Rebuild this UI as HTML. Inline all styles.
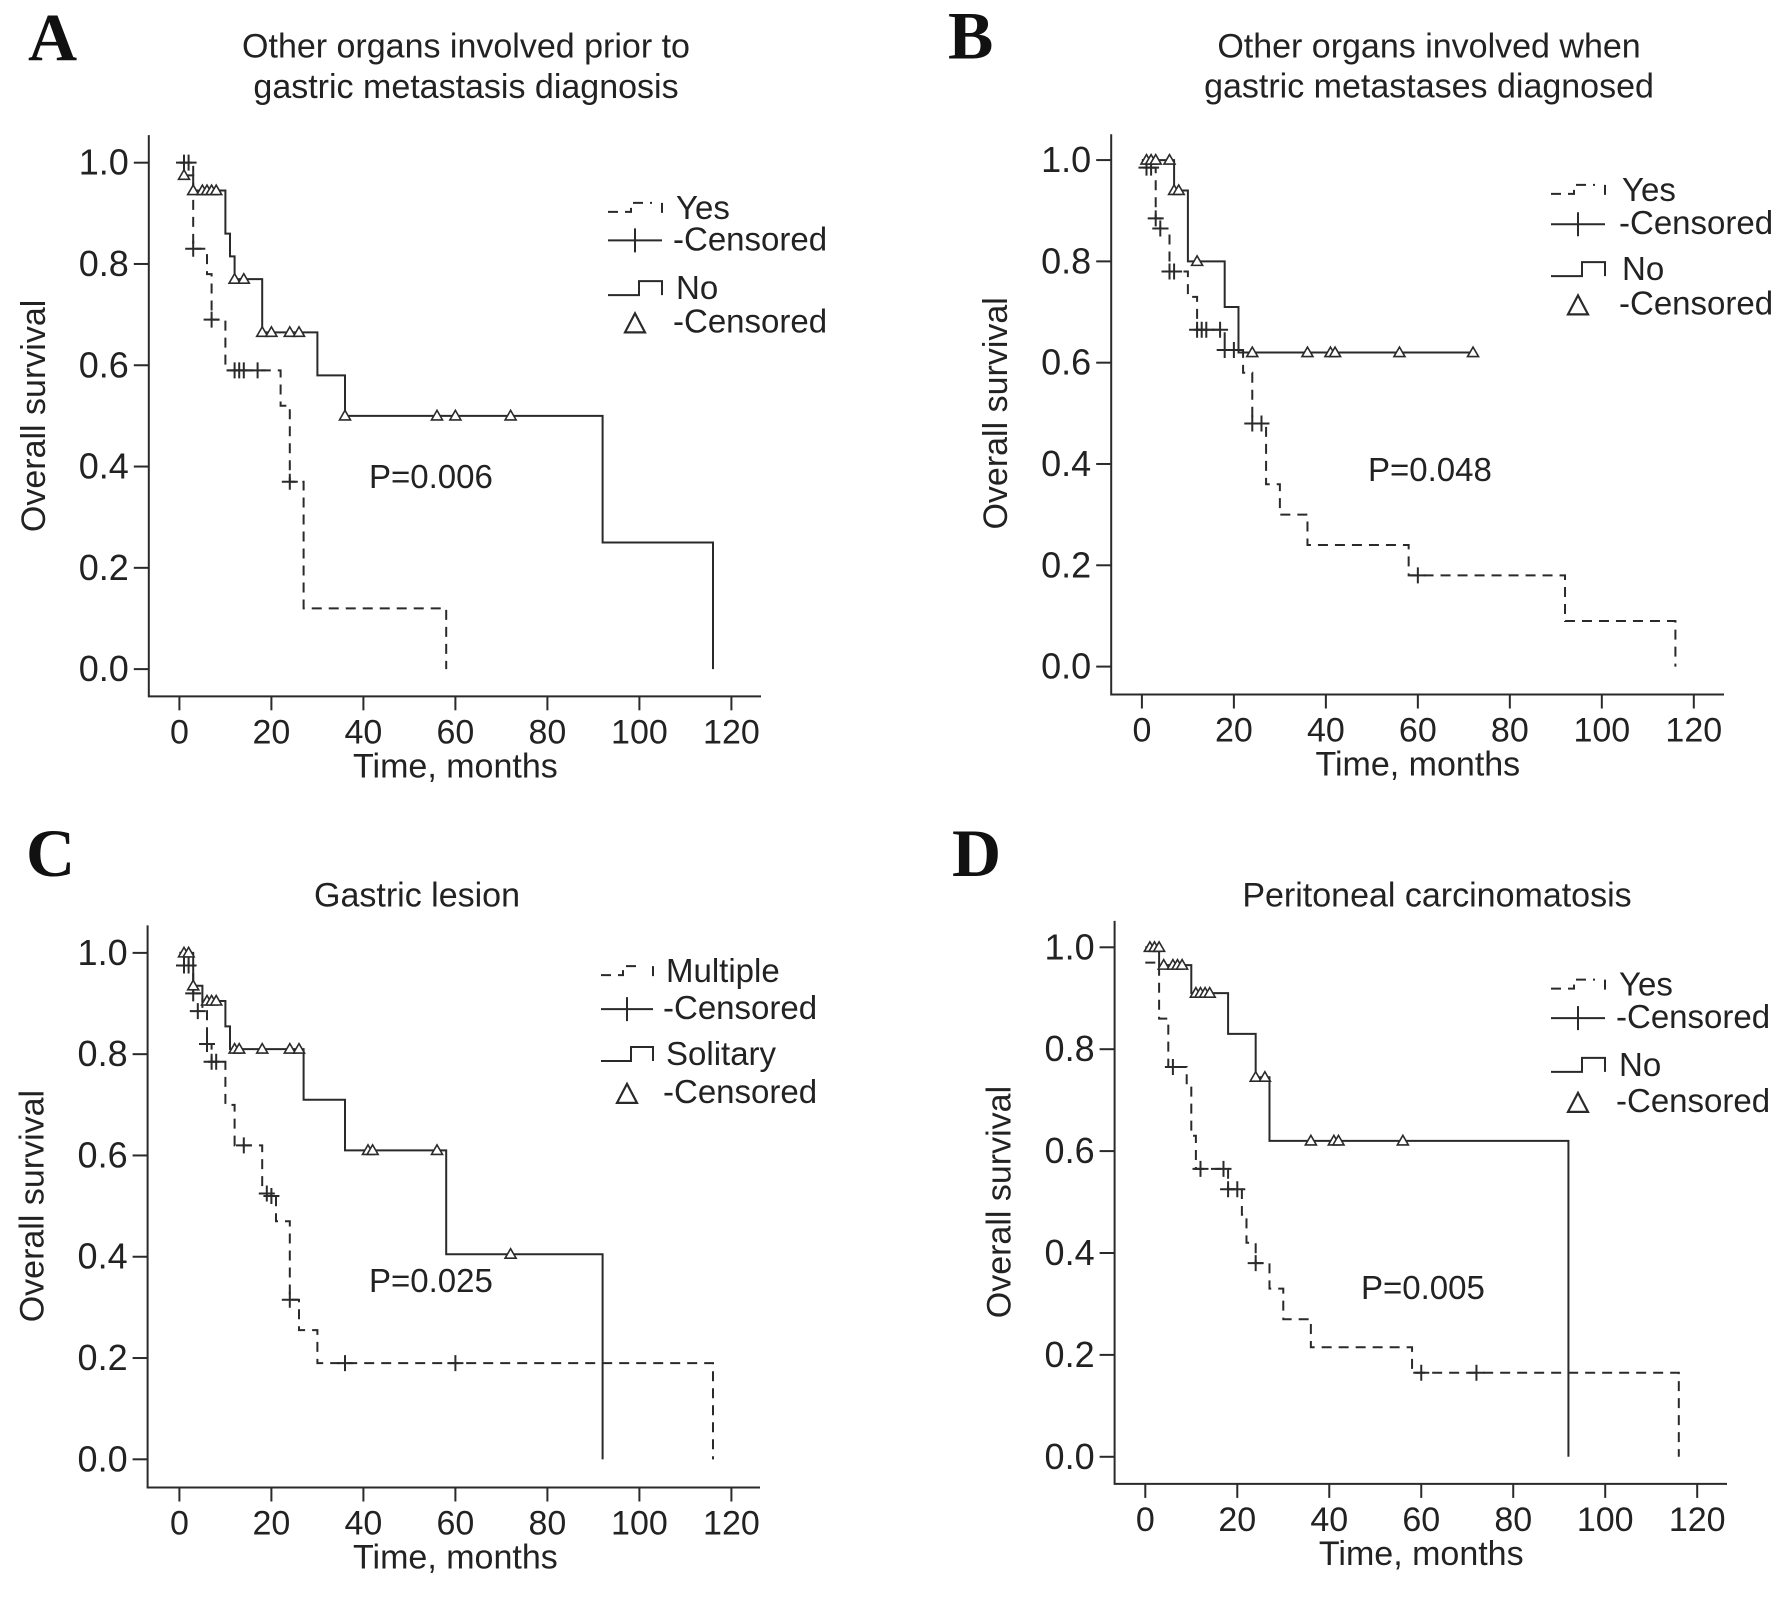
<!DOCTYPE html>
<html><head><meta charset="utf-8"><style>
html,body{margin:0;padding:0;background:#fff}
svg{display:block}
text{font-family:"Liberation Sans",Arial,sans-serif;fill:#222}
.lt{font-family:"Liberation Serif","Times New Roman",serif;font-weight:bold;font-size:68px;fill:#111}
</style></head><body>
<svg id="fig" width="1785" height="1605" viewBox="0 0 1785 1605" xmlns="http://www.w3.org/2000/svg"></svg>
<script>
// Panel A
const aYesT=[0,3,6,7,10,22,24,27,58];
const aYesS=[1,0.83,0.78,0.69,0.59,0.52,0.37,0.12,0];
const aYesCT=[1,2,3,7,12,13,14,17,24];
const aYesCS=[1,1,0.83,0.69,0.59,0.59,0.59,0.59,0.37];
const aNoT=[0,1,3,10,11,12,18,30,36,92,116];
const aNoS=[1,0.975,0.945,0.86,0.815,0.77,0.665,0.58,0.5,0.25,0];
const aNoCT=[1,3,5,6,7,8,12,14,18,20,24,26,36,56,60,72];
const aNoCS=[0.975,0.945,0.945,0.945,0.945,0.945,0.77,0.77,0.665,0.665,0.665,0.665,0.5,0.5,0.5,0.5];
// Panel B
const bYesT=[0,1,3,4,6,10,12,18,22,24,27,30,36,58,92,116];
const bYesS=[1,0.985,0.885,0.865,0.78,0.73,0.665,0.625,0.58,0.48,0.36,0.30,0.24,0.18,0.09,0];
const bYesCT=[1,2,3,4,6,7,12,13,14,17,18,20,24,26,60];
const bYesCS=[0.985,0.985,0.885,0.865,0.78,0.78,0.665,0.665,0.665,0.665,0.625,0.625,0.48,0.48,0.18];
const bNoT=[0,7,10,18,21];
const bNoS=[1,0.94,0.80,0.71,0.62];
const bNoCT=[1,2,3,6,7,8,12,24,36,41,42,56,72];
const bNoCS=[1,1,1,1,0.94,0.94,0.80,0.62,0.62,0.62,0.62,0.62,0.62];
// Panel C
const cYesT=[0,2,3,5,6,7,10,12,18,21,24,26,30,116];
const cYesS=[1,0.975,0.92,0.885,0.82,0.785,0.70,0.62,0.525,0.47,0.315,0.255,0.19,0];
const cYesCT=[1,2,3,4,6,7,8,14,19,20,24,36,60];
const cYesCS=[0.975,0.975,0.92,0.885,0.82,0.785,0.785,0.62,0.525,0.52,0.315,0.19,0.19];
const cNoT=[0,3,5,10,11,27,36,58,92];
const cNoS=[1,0.935,0.905,0.855,0.81,0.71,0.61,0.405,0];
const cNoCT=[1,2,3,6,7,8,12,13,18,24,26,41,42,56,72];
const cNoCS=[1,1,0.935,0.905,0.905,0.905,0.81,0.81,0.81,0.81,0.81,0.61,0.61,0.61,0.405];
// Panel D
const dYesT=[0,3,5,9,10,11,18,21,22,24,27,30,36,58,116];
const dYesS=[0.97,0.86,0.765,0.73,0.63,0.565,0.525,0.475,0.42,0.38,0.33,0.27,0.215,0.165,0];
const dYesCT=[6,12,17,18,20,24,60,72];
const dYesCS=[0.765,0.565,0.565,0.525,0.525,0.38,0.165,0.165];
const dNoT=[0,3,10,18,24,27,92];
const dNoS=[1,0.965,0.91,0.83,0.745,0.62,0];
const dNoCT=[1,2,3,4,6,7,8,11,12,13,14,24,26,36,41,42,56];
const dNoCS=[1,1,1,0.965,0.965,0.965,0.965,0.91,0.91,0.91,0.91,0.745,0.745,0.62,0.62,0.62,0.62];
const xTicks=[0,20,40,60,80,100,120];
const yTicks=[0,0.2,0.4,0.6,0.8,1.0];

const NS="http://www.w3.org/2000/svg";
const svg=document.getElementById('fig');
function mk(tag,attrs,parent){const e=document.createElementNS(NS,tag);for(const k in attrs)e.setAttribute(k,attrs[k]);(parent||svg).appendChild(e);return e;}
function txt(s,x,y,size,anchor,parent,name){const t=mk('text',{x:x,y:y,'font-size':size,'text-anchor':anchor||'start'},parent);t.textContent=s;


return t;}
const K=0.9008;
function fy(y){return y<802? y*K : 802+(y-802)*K;}

const panels=[
 {id:'a',letter:'A',lx:28,ly:67,title:['Other organs involved prior to','gastric metastasis diagnosis'],tx:466,ty:[64,109],
  ax:148.8,at:150,ab:773,ar:761,x0:179.4,x1:731.4,y1:180.6,y0:742.8,
  leg:{sx:608,ex:662,tx:676,ys:[243,278,332,369]},labels:['Yes','No'],px:369,py:542,
  yesT:aYesT,yesS:aYesS,yesCT:aYesCT,yesCS:aYesCS,noT:aNoT,noS:aNoS,noCT:aNoCT,noCS:aNoCS},
 {id:'b',letter:'B',lx:948,ly:65,title:['Other organs involved when','gastric metastases diagnosed'],tx:1429,ty:[64,108],
  ax:1111.2,at:149,ab:771,ar:1724,x0:1141.9,x1:1693.8,y1:177.7,y0:740,
  leg:{sx:1551,ex:1605,tx:1622,ys:[223,260,311,349]},labels:['Yes','No'],px:1368,py:534,
  yesT:bYesT,yesS:bYesS,yesCT:bYesCT,yesCS:bYesCS,noT:bNoT,noS:bNoS,noCT:bNoCT,noCS:bNoCS},
 {id:'c',letter:'C',lx:26,ly:884,title:['Gastric lesion'],tx:417,ty:[918],
  ax:147.6,at:939,ab:1563,ar:760,x0:179.4,x1:731.4,y1:969.5,y0:1531.7,
  leg:{sx:601,ex:653,tx:666,ys:[1002,1043,1094,1136]},labels:['Multiple','Solitary'],px:369,py:1346,
  yesT:cYesT,yesS:cYesS,yesCT:cYesCT,yesCS:cYesCS,noT:cNoT,noS:cNoS,noCT:cNoCT,noCS:cNoCS},
 {id:'d',letter:'D',lx:952,ly:884,title:['Peritoneal carcinomatosis'],tx:1437,ty:[918],
  ax:1114.6,at:934,ab:1559,ar:1727,x0:1145.3,x1:1697.2,y1:963.3,y0:1528.9,
  leg:{sx:1551,ex:1605,tx:1619,ys:[1017,1053,1106,1146]},labels:['Yes','No'],px:1361,py:1354,
  yesT:dYesT,yesS:dYesS,yesCT:dYesCT,yesCS:dYesCS,noT:dNoT,noS:dNoS,noCT:dNoCT,noCS:dNoCS}
];
panels.forEach(p=>{
  p.ly=fy(p.ly);p.ty=p.ty.map(fy);p.at=fy(p.at);p.ab=fy(p.ab);p.y1=fy(p.y1);p.y0=fy(p.y0);
  p.leg.ys=p.leg.ys.map(fy);p.py=fy(p.py);
});

const STK='#2a2a2a';
panels.forEach(p=>{
  const g=mk('g',{});
  
  
  const X=t=>p.x0+(t/120)*(p.x1-p.x0);
  const Y=s=>p.y0-s*(p.y0-p.y1);
  const L=mk('text',{x:p.lx,y:p.ly,'class':'lt'},g);L.textContent=p.letter;
  
  
  p.title.forEach((s,i)=>txt(s,p.tx,p.ty[i],34,'middle',g,'chart-title'));
  const axes=mk('path',{d:`M${p.ax},${p.at}V${p.ab}H${p.ar}`,fill:'none',stroke:STK,'stroke-width':2},g);
  
  
  yTicks.forEach(v=>{
    const tk=mk('line',{x1:p.ax-15,x2:p.ax,y1:Y(v),y2:Y(v),stroke:STK,'stroke-width':2},g);
    
    
    txt(v.toFixed(1),p.ax-20,Y(v)+12,36,'end',g,'y-tick-label');
  });
  xTicks.forEach(v=>{
    const tk=mk('line',{x1:X(v),x2:X(v),y1:p.ab,y2:p.ab+14,stroke:STK,'stroke-width':2},g);
    
    
    txt(String(v),X(v),p.ab+47,34,'middle',g,'x-tick-label');
  });
  txt('Time, months',(p.x0+p.x1)/2,p.ab+81,34,'middle',g,'x-axis-title');
  const yc=(p.y0+p.y1)/2, yx=p.ax-104;
  const yt=txt('Overall survival',yx,yc,34,'middle',g,'y-axis-title');
  yt.setAttribute('transform',`rotate(-90 ${yx} ${yc})`);
  function curve(T,S,CT,dash,name){
    let d=`M${X(T[0])},${Y(S[0])}`;
    for(let i=1;i<T.length;i++){d+=`H${X(T[i])}V${Y(S[i])}`;}
    const endT=Math.max(T[T.length-1],...CT);
    if(S[S.length-1]>0 && endT>T[T.length-1]) d+=`H${X(endT)}`;
    const a={d:d,fill:'none',stroke:STK,'stroke-width':2};
    if(dash)a['stroke-dasharray']='10,7';
    const c=mk('path',a,g);
    
    
  }
  curve(p.yesT,p.yesS,p.yesCT,true,'curve-'+p.labels[0].toLowerCase());
  curve(p.noT,p.noS,p.noCT,false,'curve-'+p.labels[1].toLowerCase());
  p.yesCT.forEach((t,i)=>{
    const x=X(t),y=Y(p.yesCS[i]);
    const m=mk('path',{d:`M${x-8},${y}H${x+8}M${x},${y-8}V${y+8}`,stroke:STK,'stroke-width':2,fill:'none'},g);
    
    
  });
  p.noCT.forEach((t,i)=>{
    const x=X(t),y=Y(p.noCS[i]);
    const m=mk('path',{d:`M${x-5.5},${y+4}L${x},${y-5.5}L${x+5.5},${y+4}Z`,stroke:STK,'stroke-width':1.6,fill:'#fff'},g);
    
    
  });
  const lg=p.leg, mx=(lg.sx+lg.ex)/2;
  const l1=mk('path',{d:`M${lg.sx},${lg.ys[0]-7}H${mx-4}V${lg.ys[0]-16}H${lg.ex-10}M${lg.ex},${lg.ys[0]-16}V${lg.ys[0]-4}`,stroke:STK,'stroke-width':2,fill:'none','stroke-dasharray':'10,7'},g);
  
  
  txt(p.labels[0],lg.tx,lg.ys[0],33,'start',g,'legend-label');
  const l2=mk('path',{d:`M${lg.sx},${lg.ys[1]-10}H${lg.ex}M${mx},${lg.ys[1]-22}V${lg.ys[1]+2}`,stroke:STK,'stroke-width':2,fill:'none'},g);
  
  
  txt('-Censored',lg.tx-3,lg.ys[1],33,'start',g,'legend-label');
  const l3=mk('path',{d:`M${lg.sx},${lg.ys[2]-4}H${mx+4}V${lg.ys[2]-18}H${lg.ex}V${lg.ys[2]-4}`,stroke:STK,'stroke-width':2,fill:'none'},g);
  
  
  txt(p.labels[1],lg.tx,lg.ys[2],33,'start',g,'legend-label');
  const l4=mk('path',{d:`M${mx-10},${lg.ys[3]}L${mx},${lg.ys[3]-19}L${mx+10},${lg.ys[3]}Z`,stroke:STK,'stroke-width':2.2,fill:'none'},g);
  
  
  txt('-Censored',lg.tx-3,lg.ys[3],33,'start',g,'legend-label');
  txt(p.id==='a'?'P=0.006':p.id==='b'?'P=0.048':p.id==='c'?'P=0.025':'P=0.005',p.px,p.py,33,'start',g,'p-value');
});
</script>
</body></html>
